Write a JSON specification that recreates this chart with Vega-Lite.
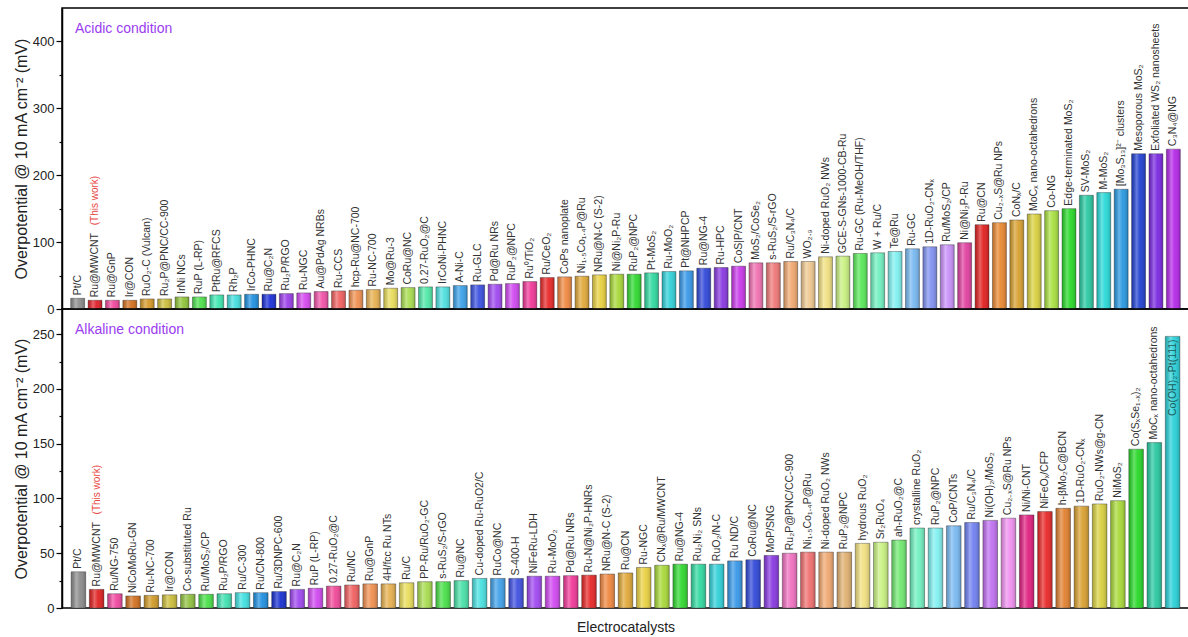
{
  "$schema": "https://vega.github.io/schema/vega-lite/v6.json",
  "padding": {"left": 12, "top": 7, "right": 1, "bottom": 0},
  "bounds": "flush",
  "config": {
    "view": {"stroke": "#000", "strokeWidth": 1.5},
    "font": "Liberation Sans",
    "concat": {"spacing": 0},
    "axis": {"grid": false, "domainColor": "#000", "domainWidth": 1.5, "tickColor": "#000", "tickWidth": 1.2, "labelColor": "#222", "labelFontSize": 13, "titleColor": "#222", "titleFontWeight": "normal", "labelFont": "Liberation Sans", "titleFont": "Liberation Sans"}
  },
  "datasets": {
    "acid": [
      {"n": 1, "name": "Pt/C", "v": 16},
      {"n": 2, "name": "Ru@MWCNT", "v": 13, "note": "(This work)"},
      {"n": 3, "name": "Ru@GnP", "v": 13},
      {"n": 4, "name": "Ir@CON", "v": 13},
      {"n": 5, "name": "RuO₂-C (Vulcan)", "v": 15},
      {"n": 6, "name": "Ru₂P@PNC/CC-900", "v": 15},
      {"n": 7, "name": "IrNi NCs", "v": 18},
      {"n": 8, "name": "RuP (L-RP)", "v": 18},
      {"n": 9, "name": "PtRu@RFCS", "v": 21},
      {"n": 10, "name": "Rh₂P", "v": 21},
      {"n": 11, "name": "IrCo-PHNC", "v": 22},
      {"n": 12, "name": "Ru@C₂N", "v": 22},
      {"n": 13, "name": "Ru₂P/RGO", "v": 23},
      {"n": 14, "name": "Ru-NGC", "v": 24},
      {"n": 15, "name": "Au@PdAg NRBs", "v": 26},
      {"n": 16, "name": "Ru-CCS", "v": 27},
      {"n": 17, "name": "hcp-Ru@NC-700", "v": 28},
      {"n": 18, "name": "Ru-NC-700", "v": 29},
      {"n": 19, "name": "Mo@Ru-3", "v": 31},
      {"n": 20, "name": "CoRu@NC", "v": 32},
      {"n": 21, "name": "0.27-RuO₂@C", "v": 33},
      {"n": 22, "name": "IrCoNi-PHNC", "v": 33},
      {"n": 23, "name": "A-Ni-C", "v": 35},
      {"n": 24, "name": "Ru-GLC", "v": 36},
      {"n": 25, "name": "Pd@Ru NRs", "v": 37},
      {"n": 26, "name": "RuP₂@NPC", "v": 38},
      {"n": 27, "name": "Ru⁰/TiO₂", "v": 41},
      {"n": 28, "name": "Ru/CeO₂", "v": 47},
      {"n": 29, "name": "CoPs nanoplate", "v": 48},
      {"n": 30, "name": "Ni₁.₅Co₁.₄P@Ru", "v": 49},
      {"n": 31, "name": "NRu@N-C (S-2)", "v": 51},
      {"n": 32, "name": "Ni@Ni₂P-Ru", "v": 52},
      {"n": 33, "name": "RuP₂@NPC", "v": 52},
      {"n": 34, "name": "Pt-MoS₂", "v": 54},
      {"n": 35, "name": "Ru-MoO₂", "v": 56},
      {"n": 36, "name": "Pt@NHPCP", "v": 57},
      {"n": 37, "name": "Ru@NG-4", "v": 61},
      {"n": 38, "name": "Ru-HPC", "v": 62},
      {"n": 39, "name": "CoS|P/CNT", "v": 64},
      {"n": 40, "name": "MoS₂/CoSe₂", "v": 69},
      {"n": 41, "name": "s-RuS₂/S-rGO", "v": 69},
      {"n": 42, "name": "Ru/C₃N₄/C", "v": 71},
      {"n": 43, "name": "WO₂.₉", "v": 71},
      {"n": 44, "name": "Ni-doped RuO₂ NWs", "v": 78},
      {"n": 45, "name": "GCE-S-GNs-1000-CB-Ru", "v": 79},
      {"n": 46, "name": "Ru-GC (Ru-MeOH/THF)", "v": 83},
      {"n": 47, "name": "W + Ru/C", "v": 84},
      {"n": 48, "name": "Te@Ru", "v": 86},
      {"n": 49, "name": "Ru-GC", "v": 90},
      {"n": 50, "name": "1D-RuO₂-CNₓ", "v": 93},
      {"n": 51, "name": "Ru/MoS₂/CP", "v": 96},
      {"n": 52, "name": "Ni@Ni₂P-Ru", "v": 99},
      {"n": 53, "name": "Ru@CN", "v": 126},
      {"n": 54, "name": "Cu₂₋ₓS@Ru NPs", "v": 129},
      {"n": 55, "name": "CoNₓ/C", "v": 133},
      {"n": 56, "name": "MoCₓ nano-octahedrons", "v": 142},
      {"n": 57, "name": "Co-NG", "v": 147},
      {"n": 58, "name": "Edge-terminated MoS₂", "v": 150},
      {"n": 59, "name": "SV-MoS₂", "v": 170},
      {"n": 60, "name": "M-MoS₂", "v": 174},
      {"n": 61, "name": "[Mo₃S₁₃]²⁻ clusters", "v": 179},
      {"n": 62, "name": "Mesoporous MoS₂", "v": 232},
      {"n": 63, "name": "Exfoliated WS₂ nanosheets", "v": 232},
      {"n": 64, "name": "C₃N₄@NG", "v": 239}
    ],
    "alk": [
      {"n": 1, "name": "Pt/C", "v": 33},
      {"n": 2, "name": "Ru@MWCNT", "v": 17, "note": "(This work)"},
      {"n": 3, "name": "Ru/NG-750", "v": 13},
      {"n": 4, "name": "NiCoMoRu-GN", "v": 11},
      {"n": 5, "name": "Ru-NC-700", "v": 11.5},
      {"n": 6, "name": "Ir@CON", "v": 12},
      {"n": 7, "name": "Co-substituted Ru", "v": 12.5},
      {"n": 8, "name": "Ru/MoS₂/CP", "v": 12.5},
      {"n": 9, "name": "Ru₂P/RGO", "v": 13},
      {"n": 10, "name": "Ru/C-300", "v": 14},
      {"n": 11, "name": "Ru/CN-800", "v": 14},
      {"n": 12, "name": "Ru/3DNPC-600", "v": 15},
      {"n": 13, "name": "Ru@C₂N", "v": 17},
      {"n": 14, "name": "RuP (L-RP)", "v": 18},
      {"n": 15, "name": "0.27-RuO₂@C", "v": 20},
      {"n": 16, "name": "Ru/NC", "v": 21},
      {"n": 17, "name": "Ru@GnP", "v": 22},
      {"n": 18, "name": "4H/fcc Ru NTs", "v": 22},
      {"n": 19, "name": "Ru/C", "v": 23},
      {"n": 20, "name": "PP-Ru/RuO₂-GC", "v": 24},
      {"n": 21, "name": "s-RuS₂/S-rGO", "v": 24},
      {"n": 22, "name": "Ru@NC", "v": 25},
      {"n": 23, "name": "Cu-doped Ru-RuO2/C", "v": 27},
      {"n": 24, "name": "RuCo@NC", "v": 27},
      {"n": 25, "name": "S-400-H", "v": 27},
      {"n": 26, "name": "NiFeRu-LDH", "v": 29},
      {"n": 27, "name": "Ru-MoO₂", "v": 29},
      {"n": 28, "name": "Pd@Ru NRs", "v": 29.5},
      {"n": 29, "name": "Ru-N@Ni₂P-HNRs", "v": 30},
      {"n": 30, "name": "NRu@N-C (S-2)", "v": 31},
      {"n": 31, "name": "Ru@CN", "v": 32},
      {"n": 32, "name": "Ru-NGC", "v": 37},
      {"n": 33, "name": "CNₓ@Ru/MWCNT", "v": 39},
      {"n": 34, "name": "Ru@NG-4", "v": 40},
      {"n": 35, "name": "Ru₂Ni₂ SNs", "v": 40},
      {"n": 36, "name": "RuO₂/N-C", "v": 40},
      {"n": 37, "name": "Ru ND/C", "v": 43},
      {"n": 38, "name": "CoRu@NC", "v": 44},
      {"n": 39, "name": "MoP/SNG", "v": 48},
      {"n": 40, "name": "Ru₂P@PNC/CC-900", "v": 50},
      {"n": 41, "name": "Ni₁.₅Co₁.₄P@Ru", "v": 51},
      {"n": 42, "name": "Ni-doped RuO₂ NWs", "v": 51},
      {"n": 43, "name": "RuP₂@NPC", "v": 51},
      {"n": 44, "name": "hydrous RuO₂", "v": 59},
      {"n": 45, "name": "Sr₂RuO₄", "v": 60},
      {"n": 46, "name": "ah-RuO₂@C", "v": 62},
      {"n": 47, "name": "crystalline RuO₂", "v": 73},
      {"n": 48, "name": "RuP₂@NPC", "v": 73},
      {"n": 49, "name": "CoP/CNTs", "v": 75},
      {"n": 50, "name": "Ru/C₃N₄/C", "v": 78},
      {"n": 51, "name": "Ni(OH)₂/MoS₂", "v": 80},
      {"n": 52, "name": "Cu₂₋ₓS@Ru NPs", "v": 82},
      {"n": 53, "name": "Ni/Ni-CNT", "v": 85},
      {"n": 54, "name": "NiFeOₓ/CFP", "v": 88},
      {"n": 55, "name": "h-βMo₂C@BCN", "v": 91},
      {"n": 56, "name": "1D-RuO₂-CNₓ", "v": 93},
      {"n": 57, "name": "RuO₂-NWs@g-CN", "v": 95},
      {"n": 58, "name": "NiMoS₂", "v": 98},
      {"n": 59, "name": "Co(SₓSe₁₋ₓ)₂", "v": 145},
      {"n": 60, "name": "MoCₓ nano-octahedrons", "v": 151},
      {"n": 61, "name": "Co(OH)₂-Pt(111)", "v": 248}
    ]
  },
  "vconcat": [
    {
      "width": 1127,
      "height": 301,
      "data": {"name": "acid"},
      "title": {"text": "Acidic condition", "anchor": "start", "frame": "group", "orient": "top", "offset": -28, "dx": 13, "color": "#9b3cf0", "fontSize": 14, "fontWeight": "normal", "font": "Liberation Sans"},
      "encoding": {
        "x": {"field": "n", "type": "ordinal", "scale": {"paddingInner": 0.2, "paddingOuter": 0.5}, "axis": null},
        "y": {
          "field": "v", "type": "quantitative",
          "scale": {"domain": [0, 450], "nice": false},
          "axis": {
            "title": "Overpotential @ 10 mA cm⁻² (mV)", "titleFontSize": 16, "titlePadding": 3, "labelPadding": 2,
            "values": [0, 50, 100, 150, 200, 250, 300, 350, 400],
            "labelExpr": "datum.value % 100 === 0 ? datum.label : ''",
            "tickSize": {"condition": {"test": "datum.value % 100 === 0", "value": 6}, "value": 3}
          }
        }
      },
      "layer": [
        {
          "mark": {"type": "bar", "stroke": "#333", "strokeWidth": 0.6, "strokeOpacity": 0.7},
          "encoding": {
            "color": {"field": "n", "type": "ordinal", "legend": null, "scale": {"range": [
              "#8c8c8c", "#e0202a", "#f0479c", "#d4701f", "#d69a2a", "#cbbd3b", "#8fc43a", "#4ee04e", "#3ee8b0", "#44dede", "#1f8fe0", "#1a2fd6", "#9a3ee8", "#d548f0", "#f052a8", "#f06060",
              "#f09050", "#e6b050", "#e8dc5a", "#a8dc50", "#4ee8a8", "#4ee0e0", "#3aa0e8", "#3a50e0", "#a048f0", "#d048f0", "#f03898", "#e82828", "#f08840", "#e0a838", "#e8d040", "#a8d838",
              "#30d830", "#30d8a0", "#30d0d8", "#3898e8", "#3048d8", "#8838e0", "#c838e8", "#f070b0", "#f07878", "#f0a870", "#eec890", "#f0e080", "#c8f080", "#58e858", "#70f0c0", "#80f0f0",
              "#78b8f0", "#8090f0", "#c890f8", "#e040a0", "#e02020", "#e88830", "#d8a030", "#d8d040", "#a8e040", "#28d828", "#28c8a0", "#28d8d8", "#2898e0", "#2040d0", "#7a28e0", "#b428e8"
            ]}}
          }
        },
        {
          "mark": {"type": "bar", "fill": {"gradient": "linear", "x1": 0, "y1": 0, "x2": 1, "y2": 0, "stops": [
            {"offset": 0, "color": "rgba(0,0,0,0.18)"},
            {"offset": 0.35, "color": "rgba(255,255,255,0.3)"},
            {"offset": 0.6, "color": "rgba(255,255,255,0.05)"},
            {"offset": 1, "color": "rgba(0,0,0,0.2)"}
          ]}}
        },
        {
          "mark": {"type": "text", "angle": 270, "align": "left", "baseline": "middle", "dx": 3, "fontSize": 10.5, "color": "#333", "font": "Liberation Sans"},
          "encoding": {"text": {"field": "name"}}
        },
        {
          "transform": [{"filter": "datum.note"}],
          "mark": {"type": "text", "angle": 270, "align": "left", "baseline": "middle", "dx": 75, "fontSize": 10, "color": "#e8473f", "font": "Liberation Sans"},
          "encoding": {"text": {"field": "note"}}
        }
      ]
    },
    {
      "width": 1127,
      "height": 299,
      "data": {"name": "alk"},
      "title": {"text": "Alkaline condition", "anchor": "start", "frame": "group", "orient": "top", "offset": -28, "dx": 13, "color": "#9b3cf0", "fontSize": 14, "fontWeight": "normal", "font": "Liberation Sans"},
      "encoding": {
        "x": {"field": "n", "type": "ordinal", "scale": {"paddingInner": 0.2, "paddingOuter": 0.5}, "axis": {"title": "Electrocatalysts", "labels": false, "ticks": false, "domain": false, "titleFontSize": 14, "titlePadding": 12}},
        "y": {
          "field": "v", "type": "quantitative",
          "scale": {"domain": [0, 273], "nice": false},
          "axis": {
            "title": "Overpotential @ 10 mA cm⁻² (mV)", "titleFontSize": 16, "titlePadding": 3, "labelPadding": 2,
            "values": [0, 25, 50, 75, 100, 125, 150, 175, 200, 225, 250],
            "labelExpr": "datum.value % 50 === 0 ? datum.label : ''",
            "tickSize": {"condition": {"test": "datum.value % 50 === 0", "value": 6}, "value": 3}
          }
        }
      },
      "layer": [
        {
          "mark": {"type": "bar", "stroke": "#333", "strokeWidth": 0.6, "strokeOpacity": 0.7},
          "encoding": {
            "color": {"field": "n", "type": "ordinal", "legend": null, "scale": {"range": [
              "#8c8c8c", "#e02020", "#f048a0", "#d07020", "#d09a28", "#cbbd3b", "#90c040", "#48e048", "#40e0b0", "#40e0e0", "#2090e0", "#1830d0", "#a048f0", "#d048f0", "#f04898", "#f06060",
              "#f09050", "#e6b050", "#e8dc5a", "#a8dc50", "#48e048", "#48e0a8", "#48e0e0", "#40a0e8", "#4050e0", "#a048f0", "#d048f0", "#f03898", "#e82828", "#f08840", "#e0a838", "#e8d040",
              "#a8d838", "#30d830", "#30d8a0", "#30d0d8", "#3898e8", "#3048d8", "#8838e0", "#f070c0", "#f07070", "#f0a870", "#e0b070", "#f0e080", "#c8f080", "#70e870", "#70f0c0", "#80f0f0",
              "#78b8f0", "#7080f0", "#c070f0", "#f090f0", "#e02080", "#e82828", "#e08030", "#d8a030", "#d8d040", "#a8d838", "#28d828", "#28c8a0", "#28d0d8"
            ]}}
          }
        },
        {
          "mark": {"type": "bar", "fill": {"gradient": "linear", "x1": 0, "y1": 0, "x2": 1, "y2": 0, "stops": [
            {"offset": 0, "color": "rgba(0,0,0,0.18)"},
            {"offset": 0.35, "color": "rgba(255,255,255,0.3)"},
            {"offset": 0.6, "color": "rgba(255,255,255,0.05)"},
            {"offset": 1, "color": "rgba(0,0,0,0.2)"}
          ]}}
        },
        {
          "transform": [{"filter": "datum.v < 240"}],
          "mark": {"type": "text", "angle": 270, "align": "left", "baseline": "middle", "dx": 3, "fontSize": 10.5, "color": "#333", "font": "Liberation Sans"},
          "encoding": {"text": {"field": "name"}}
        },
        {
          "transform": [{"filter": "datum.v >= 240"}],
          "mark": {"type": "text", "angle": 270, "align": "right", "baseline": "middle", "dx": -3, "fontSize": 10.5, "color": "#1d5c5c", "font": "Liberation Sans"},
          "encoding": {"text": {"field": "name"}}
        },
        {
          "transform": [{"filter": "datum.note"}],
          "mark": {"type": "text", "angle": 270, "align": "left", "baseline": "middle", "dx": 75, "fontSize": 10, "color": "#e8473f", "font": "Liberation Sans"},
          "encoding": {"text": {"field": "note"}}
        }
      ]
    }
  ],
  "resolve": {"scale": {"color": "independent", "x": "independent", "y": "independent"}}
}
